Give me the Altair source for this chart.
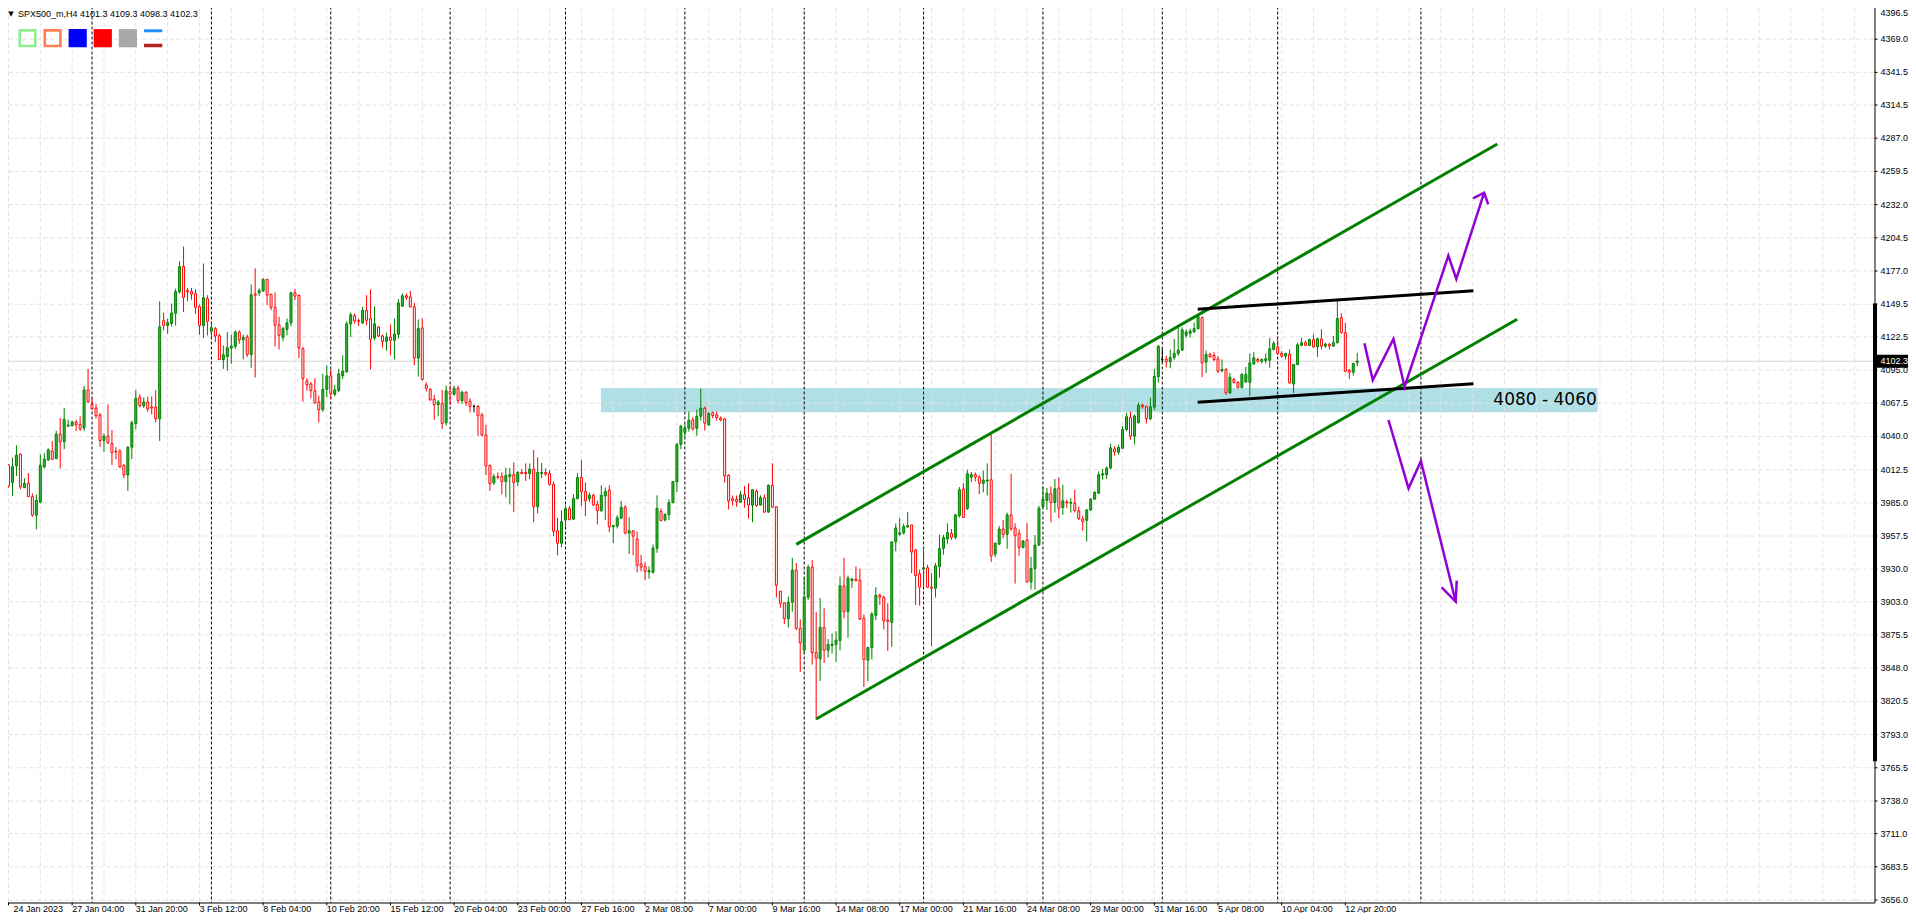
import altair as alt
import pandas as pd

# ---------------- data (H4 candles, bar index 0..339) ----------------
opens = [
    4016.4, 4001.7, 4015.6, 4025.3, 3997.5, 4001.1, 3990.1, 3974.8, 3985.6, 4014.7,
    4020.5, 4027.8, 4021.7, 4041.9, 4035.5, 4048.5, 4048.8, 4051.9, 4049.9, 4047.1,
    4078.5, 4066.5, 4063.5, 4057.7, 4036.6, 4040.2, 4034.1, 4027.7, 4027.7, 4016.1,
    4008.1, 4031.1, 4050.8, 4072.6, 4065.4, 4068.5, 4064.3, 4064.3, 4054.6, 4135.8,
    4131.9, 4133.6, 4141.9, 4159.7, 4180.7, 4160.8, 4159.9, 4158.3, 4147.5, 4131.9,
    4154.1, 4127.2, 4129.2, 4123.4, 4103.7, 4106.2, 4113.1, 4114.5, 4126.4, 4120.0,
    4122.3, 4107.9, 4158.1, 4159.0, 4160.4, 4170.1, 4157.6, 4146.8, 4132.3, 4122.1,
    4128.7, 4134.0, 4159.0, 4156.7, 4112.6, 4086.0, 4083.5, 4077.7, 4068.5, 4062.1,
    4079.0, 4090.1, 4074.9, 4077.9, 4090.4, 4093.7, 4133.2, 4140.1, 4135.9, 4134.0,
    4144.3, 4137.6, 4121.5, 4130.7, 4123.2, 4118.7, 4122.3, 4119.6, 4124.6, 4147.9,
    4156.5, 4155.6, 4147.3, 4104.9, 4129.8, 4082.6, 4079.0, 4070.7, 4066.3, 4067.4,
    4051.3, 4077.1, 4074.9, 4079.9, 4069.6, 4076.6, 4069.0, 4064.9, 4064.9,
    4057.8, 4041.2, 4015.9, 4001.5, 4006.7, 4006.7, 4002.6, 4006.7, 4008.4, 4002.3,
    4010.1, 4010.1, 4009.2, 4012.9, 3981.8, 4009.2, 4010.1, 4009.2, 4000.1, 3961.8,
    3951.5, 3970.7, 3980.1, 3971.5, 3988.4, 4005.9, 3994.3, 3988.4, 3991.2, 3983.7,
    3978.4, 3990.6, 3995.4, 3965.1, 3965.7, 3972.3, 3981.2, 3959.9, 3961.8, 3955.1,
    3934.3, 3932.1, 3927.7, 3927.4, 3947.4, 3977.9, 3970.7, 3975.1, 3985.1, 4002.3,
    4033.4, 4043.4, 4046.7, 4053.6, 4046.7, 4056.7, 4063.4, 4049.5, 4059.5, 4057.8,
    4055.2, 4054.4, 4007.8, 3988.4, 3987.8, 3985.6, 3991.7, 3989.2, 3983.1, 3994.5,
    3983.1, 3989.2, 3977.3, 3999.5, 3981.7, 3911.8, 3902.1, 3889.0, 3902.6, 3929.2,
    3881.0, 3862.9, 3906.8, 3931.7, 3861.0, 3855.7, 3881.8, 3862.9, 3866.8, 3867.6,
    3871.0, 3916.2, 3894.8, 3920.6, 3921.8, 3920.9, 3889.3, 3854.6, 3864.9, 3891.8,
    3908.4, 3906.8, 3887.9, 3886.0, 3952.6, 3958.9, 3960.1, 3965.0, 3966.7, 3945.9,
    3926.2, 3930.1, 3931.2, 3915.1, 3914.3, 3932.3, 3947.3, 3955.1, 3959.7,
    3956.4, 3974.4, 3996.4, 3980.3, 4006.3, 4008.3, 4006.3, 4001.1, 4003.0, 4004.1,
    3942.5, 3950.8, 3963.3, 3958.9, 3975.0, 3964.2, 3959.7, 3948.1, 3954.2, 3919.5,
    3930.6, 3950.0, 3981.9, 3986.9, 3992.5, 3985.3, 3997.2, 3981.1, 3985.8, 3984.7,
    3984.7, 3978.3, 3971.7, 3970.5, 3979.1, 3988.0, 3993.0, 4008.0, 4008.3, 4013.8,
    4029.7, 4026.9, 4030.2, 4045.8, 4055.7, 4040.2, 4051.3, 4066.0, 4064.6, 4054.6,
    4064.3, 4089.6, 4103.5, 4104.0, 4101.8, 4105.4, 4108.7, 4111.5,
    4123.7, 4125.3, 4126.5, 4129.2, 4138.4, 4101.5, 4107.9, 4107.0, 4104.3, 4094.3,
    4095.4, 4076.0, 4087.1, 4084.8, 4080.7, 4085.1, 4084.8, 4100.1, 4103.7, 4102.3,
    4102.9, 4103.1, 4112.0, 4114.0, 4108.7, 4106.5, 4107.9, 4083.4, 4099.5, 4115.4,
    4117.6, 4115.4, 4120.1, 4114.2, 4120.6, 4114.8, 4116.2, 4114.8, 4117.6, 4138.4,
    4125.9, 4094.8, 4093.2, 4101.3,
]
highs = [
    4016.9, 4022.5, 4032.7, 4025.8, 4005.3, 4009.5, 3992.8, 3992.0, 4025.3, 4026.1,
    4030.0, 4036.1, 4044.7, 4055.2, 4063.5, 4053.8, 4053.0, 4053.8, 4056.6, 4081.8,
    4095.9, 4071.5, 4066.8, 4059.4, 4042.7, 4066.3, 4045.2, 4031.1, 4029.4, 4016.9,
    4031.6, 4053.0, 4078.5, 4074.9, 4072.4, 4072.9, 4073.2, 4078.2, 4151.9, 4142.5,
    4137.5, 4150.0, 4162.4, 4185.1, 4197.3, 4163.0, 4163.0, 4161.9, 4149.1, 4183.2,
    4156.9, 4133.3, 4130.6, 4125.0, 4115.3, 4126.4, 4124.2, 4127.8, 4127.8, 4124.2,
    4124.3, 4165.9, 4179.2, 4162.6, 4170.9, 4170.1, 4158.4, 4159.2, 4139.0, 4130.7,
    4137.6, 4159.8, 4162.0, 4157.6, 4114.0, 4088.2, 4084.9, 4088.2, 4073.8, 4091.8,
    4098.8, 4095.1, 4082.7, 4096.0, 4107.1, 4135.4, 4142.6, 4141.8, 4137.6, 4147.3,
    4157.0, 4161.7, 4147.6, 4131.2, 4124.3, 4125.9, 4132.6, 4137.6, 4153.7, 4158.4,
    4158.4, 4160.4, 4150.6, 4136.8, 4137.6, 4084.9, 4079.9, 4074.3, 4070.2, 4078.5,
    4082.1, 4082.1, 4082.1, 4082.1, 4077.9, 4077.4, 4071.6, 4066.3, 4066.0,
    4059.5, 4049.5, 4016.7, 4009.0, 4010.1, 4010.1, 4014.2, 4013.9, 4018.4, 4011.2,
    4012.9, 4017.6, 4017.6, 4028.7, 4022.6, 4017.9, 4013.4, 4012.0, 4002.6, 3972.6,
    3978.7, 3982.9, 3982.3, 3992.0, 4009.5, 4020.3, 4001.8, 3993.4, 3992.6, 3986.8,
    3999.5, 3997.6, 3999.5, 3966.5, 3974.8, 3986.5, 3983.2, 3972.9, 3962.3, 3961.2,
    3941.8, 3936.0, 3932.4, 3950.4, 3991.2, 3980.4, 3976.2, 3987.9, 4002.6, 4034.5,
    4049.5, 4050.0, 4060.6, 4055.9, 4062.2, 4079.5, 4064.7, 4060.0, 4060.6, 4060.6,
    4056.5, 4055.5, 4008.6, 3991.1, 3991.1, 3994.7, 3998.9, 4001.1, 3996.1, 3996.1,
    3991.1, 3992.0, 4000.3, 4017.8, 3981.7, 3911.8, 3902.6, 3907.3, 3939.5, 3935.1,
    3888.5, 3923.4, 3933.7, 3937.8, 3894.6, 3906.2, 3897.6, 3872.1, 3876.8, 3878.7,
    3924.0, 3939.5, 3924.8, 3922.9, 3932.3, 3930.6, 3892.6, 3865.7, 3894.6, 3915.1,
    3909.8, 3907.9, 3901.8, 3953.1, 3967.8, 3972.5, 3967.8, 3977.5, 3966.7, 3946.7,
    3929.5, 3947.8, 3933.7, 3926.7, 3935.1, 3958.7, 3958.4, 3968.1, 3963.3,
    3975.8, 3998.0, 4001.3, 4012.4, 4010.5, 4010.2, 4007.7, 4011.6, 4017.7, 4043.0,
    3952.2, 3965.8, 3970.8, 3976.9, 4009.1, 3968.1, 3963.0, 3954.2, 3968.1, 3940.3,
    3958.3, 3982.5, 3998.6, 3997.2, 3998.6, 4004.7, 4006.1, 4000.0, 3987.5, 3988.9,
    3995.8, 3981.9, 3974.2, 3980.0, 3988.9, 3994.7, 4011.1, 4013.0, 4015.2, 4034.1,
    4031.9, 4033.0, 4048.5, 4059.6, 4060.5, 4058.2, 4067.9, 4067.1, 4065.7, 4072.1,
    4095.7, 4115.7, 4112.4, 4106.8, 4111.8, 4120.7, 4131.8, 4130.4,
    4128.7, 4129.2, 4134.2, 4141.2, 4139.2, 4111.2, 4109.3, 4109.8, 4106.5, 4103.7,
    4096.8, 4092.6, 4088.4, 4085.7, 4092.6, 4097.6, 4108.7, 4109.8, 4105.1, 4104.5,
    4108.7, 4121.5, 4119.0, 4120.4, 4110.6, 4109.3, 4112.0, 4100.1, 4117.6, 4121.7,
    4119.0, 4120.9, 4124.5, 4121.7, 4128.7, 4117.6, 4117.6, 4123.1, 4153.1, 4142.0,
    4134.2, 4095.9, 4100.9, 4109.3,
]
lows = [
    3997.5, 3990.6, 4007.2, 3996.2, 3997.5, 3990.1, 3973.4, 3962.9, 3984.5, 4013.6,
    4019.7, 4020.5, 4021.1, 4013.6, 4029.4, 4048.3, 4048.3, 4044.4, 4044.4, 4044.4,
    4067.7, 4062.4, 4054.9, 4031.4, 4027.2, 4033.6, 4016.4, 4021.1, 4013.9, 4005.3,
    3994.8, 4021.1, 4046.0, 4064.0, 4063.5, 4060.4, 4058.2, 4051.6, 4036.3, 4127.8,
    4125.0, 4131.1, 4131.9, 4158.3, 4143.0, 4151.9, 4153.3, 4141.6, 4124.2, 4121.4,
    4123.6, 4120.9, 4118.1, 4103.7, 4095.9, 4094.5, 4100.1, 4112.5, 4116.7, 4103.7,
    4105.7, 4096.8, 4088.8, 4156.5, 4159.8, 4148.7, 4144.5, 4114.6, 4112.1, 4118.7,
    4123.7, 4131.2, 4152.9, 4104.9, 4068.8, 4077.9, 4071.6, 4066.8, 4051.6, 4060.5,
    4072.4, 4071.0, 4073.2, 4076.6, 4087.7, 4092.6, 4122.3, 4133.4, 4131.5, 4133.2,
    4132.1, 4095.4, 4119.6, 4122.3, 4113.5, 4111.0, 4107.1, 4103.8, 4121.0, 4147.3,
    4152.9, 4146.8, 4098.8, 4089.6, 4086.3, 4077.1, 4069.3, 4053.8, 4056.6, 4046.0,
    4048.8, 4066.0, 4073.8, 4067.4, 4066.8, 4065.4, 4059.9, 4059.9, 4040.5,
    4040.0, 4007.9, 3994.8, 3999.8, 4004.5, 3992.0, 3989.5, 3983.7, 3977.3, 3999.0,
    4008.7, 4003.1, 4004.5, 3969.0, 3976.2, 4005.4, 4007.3, 3999.5, 3957.4, 3941.5,
    3948.2, 3965.7, 3970.4, 3970.7, 3987.9, 3982.3, 3974.0, 3985.7, 3982.3, 3967.1,
    3977.6, 3970.7, 3960.7, 3951.8, 3963.7, 3972.1, 3958.7, 3942.6, 3941.5, 3927.4,
    3928.2, 3920.7, 3922.1, 3926.3, 3943.5, 3969.6, 3969.6, 3970.7, 3984.6, 3994.0,
    4029.5, 4038.7, 4043.9, 4044.8, 4040.6, 4053.1, 4044.8, 4048.9, 4055.0, 4053.1,
    4052.5, 4001.7, 3979.5, 3982.8, 3981.7, 3985.0, 3980.9, 3972.0, 3968.9, 3981.7,
    3982.8, 3976.7, 3976.7, 3980.9, 3906.5, 3898.2, 3884.6, 3881.8, 3894.8, 3879.6,
    3844.9, 3860.2, 3904.5, 3851.0, 3805.5, 3837.4, 3852.4, 3856.8, 3860.2, 3853.2,
    3862.9, 3889.3, 3873.2, 3914.3, 3919.8, 3887.9, 3832.4, 3837.4, 3855.2, 3887.9,
    3900.4, 3880.1, 3862.4, 3865.7, 3944.8, 3957.8, 3958.7, 3964.2, 3926.8, 3900.4,
    3899.8, 3915.7, 3914.5, 3866.3, 3906.5, 3923.1, 3942.0, 3951.2, 3954.2,
    3954.7, 3972.8, 3972.8, 3979.1, 4002.2, 4002.7, 3992.2, 3993.6, 3991.1, 3936.1,
    3940.3, 3950.0, 3955.6, 3947.0, 3961.9, 3918.1, 3941.1, 3947.2, 3919.0, 3913.1,
    3913.1, 3949.2, 3980.5, 3979.1, 3968.9, 3976.9, 3972.2, 3975.0, 3980.5, 3976.9,
    3976.9, 3970.8, 3961.9, 3952.8, 3978.3, 3987.5, 3992.2, 4004.1, 4004.7, 4013.0,
    4024.1, 4024.9, 4029.7, 4044.4, 4037.4, 4033.3, 4050.7, 4063.0, 4050.7, 4053.5,
    4061.6, 4084.6, 4101.2, 4097.1, 4096.5, 4103.2, 4106.8, 4110.7,
    4121.7, 4121.7, 4125.9, 4128.7, 4089.0, 4092.6, 4105.1, 4102.3, 4092.6, 4093.2,
    4074.6, 4075.4, 4083.7, 4079.6, 4079.8, 4084.3, 4073.2, 4099.3, 4101.2, 4100.4,
    4100.4, 4096.8, 4111.2, 4107.3, 4105.1, 4103.7, 4083.7, 4076.0, 4099.0, 4114.8,
    4114.8, 4114.8, 4113.4, 4105.9, 4112.0, 4113.4, 4112.0, 4114.2, 4117.0, 4125.3,
    4093.2, 4087.6, 4090.4, 4098.3,
]
closes = [
    3998.9, 4015.0, 4024.4, 3998.1, 4001.1, 3990.1, 3974.8, 3987.0, 4016.1, 4021.1,
    4028.9, 4021.1, 4041.9, 4035.5, 4054.1, 4049.4, 4051.9, 4049.6, 4046.3, 4078.5,
    4068.8, 4062.9, 4057.1, 4036.6, 4040.2, 4034.7, 4026.6, 4027.2, 4014.7, 4008.1,
    4031.1, 4051.3, 4071.5, 4065.4, 4068.5, 4062.7, 4063.5, 4054.6, 4130.8, 4131.9,
    4134.2, 4142.2, 4159.9, 4180.7, 4155.2, 4159.7, 4158.0, 4146.9, 4131.9, 4154.9,
    4135.3, 4130.0, 4123.1, 4103.7, 4107.6, 4113.4, 4114.8, 4126.4, 4120.0, 4122.0,
    4107.9, 4157.3, 4157.0, 4160.9, 4170.1, 4157.0, 4147.0, 4132.1, 4123.7, 4129.3,
    4134.0, 4159.0, 4156.2, 4113.2, 4087.9, 4082.9, 4077.9, 4067.9, 4062.1, 4079.0,
    4090.1, 4075.4, 4078.5, 4091.8, 4094.0, 4133.2, 4140.7, 4135.7, 4135.4, 4144.3,
    4136.2, 4120.4, 4133.2, 4123.2, 4118.7, 4122.3, 4119.6, 4124.8, 4150.6, 4156.5,
    4155.1, 4147.3, 4104.9, 4129.3, 4087.1, 4079.9, 4070.4, 4066.3, 4068.5, 4050.7,
    4077.7, 4074.9, 4079.9, 4069.9, 4076.6, 4067.9, 4064.9, 4064.9, 4057.1,
    4041.2, 4015.6, 4000.9, 4006.7, 4006.2, 4002.6, 4007.6, 4008.4, 4001.8, 4010.1,
    4009.2, 4009.2, 4012.9, 3981.8, 4010.1, 4010.1, 4008.7, 4000.1, 3961.5, 3951.5,
    3969.3, 3980.1, 3971.2, 3988.4, 4005.9, 3994.3, 3986.8, 3991.2, 3983.2, 3978.4,
    3991.2, 3994.3, 3965.1, 3966.2, 3972.6, 3981.2, 3959.9, 3961.8, 3957.4, 3933.2,
    3931.8, 3928.2, 3928.8, 3947.6, 3980.4, 3970.4, 3975.4, 3985.1, 4002.6, 4033.4,
    4048.4, 4047.0, 4053.4, 4046.2, 4056.7, 4063.4, 4050.9, 4059.2, 4057.3, 4055.6,
    4053.6, 4007.2, 3986.4, 3987.0, 3985.9, 3991.7, 3987.8, 3983.1, 3995.8, 3982.8,
    3989.2, 3977.3, 3999.5, 3981.4, 3916.8, 3901.8, 3889.0, 3902.6, 3929.2, 3881.0,
    3869.0, 3907.0, 3931.7, 3861.0, 3856.5, 3881.8, 3862.9, 3867.6, 3867.9, 3871.3,
    3916.2, 3894.8, 3922.6, 3921.8, 3920.6, 3888.7, 3855.2, 3865.1, 3892.9, 3908.4,
    3906.8, 3887.3, 3886.8, 3952.6, 3964.2, 3960.1, 3965.3, 3966.2, 3944.2, 3924.8,
    3915.1, 3931.2, 3915.1, 3914.3, 3932.8, 3947.0, 3956.2, 3960.3, 3956.4,
    3975.0, 3995.8, 3972.8, 4009.1, 4008.3, 4006.3, 4001.1, 4003.8, 4003.8, 3941.1,
    3951.4, 3963.3, 3958.9, 3975.0, 3963.3, 3957.8, 3948.1, 3953.4, 3919.5, 3930.6,
    3950.0, 3980.5, 3988.0, 3993.0, 3985.3, 3996.6, 3980.5, 3986.6, 3985.0, 3985.3,
    3978.6, 3971.9, 3969.4, 3979.1, 3988.0, 3993.6, 4008.3, 4009.1, 4013.8, 4030.5,
    4027.2, 4030.8, 4045.8, 4056.3, 4040.2, 4056.9, 4065.7, 4064.6, 4054.6, 4064.6,
    4089.6, 4114.6, 4103.5, 4101.8, 4105.4, 4108.7, 4111.5, 4128.2,
    4126.5, 4127.3, 4129.2, 4139.2, 4100.9, 4107.9, 4105.9, 4103.7, 4094.0, 4095.4,
    4076.0, 4089.0, 4084.8, 4080.7, 4091.2, 4091.2, 4100.9, 4105.1, 4102.3, 4103.7,
    4104.3, 4112.6, 4117.0, 4108.7, 4106.5, 4108.7, 4084.3, 4099.5, 4115.9, 4117.6,
    4115.4, 4120.1, 4114.2, 4120.9, 4114.8, 4116.5, 4114.8, 4117.6, 4137.6, 4125.9,
    4094.0, 4093.2, 4100.4, 4102.3,
]

x_labels = ["24 Jan 2023", "27 Jan 04:00", "31 Jan 20:00", "3 Feb 12:00", "8 Feb 04:00",
            "10 Feb 20:00", "15 Feb 12:00", "20 Feb 04:00", "23 Feb 00:00", "27 Feb 16:00",
            "2 Mar 08:00", "7 Mar 00:00", "9 Mar 16:00", "14 Mar 08:00", "17 Mar 00:00",
            "21 Mar 16:00", "24 Mar 08:00", "29 Mar 00:00", "31 Mar 16:00", "5 Apr 08:00",
            "10 Apr 04:00", "12 Apr 20:00"]
label_bars = [0, 16, 32, 48, 64, 80, 96, 112, 128, 144, 160, 176, 192, 208, 224,
              240, 256, 272, 288, 304, 320, 336]
separator_bars = [21, 51, 81, 111, 140, 170, 200, 230, 260, 290, 319, 355]
grid_bars = [0, 8, 16, 24, 32, 40, 48, 56, 64, 72, 80, 88, 96, 104, 112, 120, 128, 136,
             144, 152, 160, 168, 176, 184, 192, 200, 208, 216, 224, 232, 240, 248, 256,
             264, 272, 280, 288, 296, 304, 312, 320, 328, 336, 344, 352, 360, 368, 376,
             384, 392, 400, 408, 416, 424, 432, 440, 448, 456, 464]
price_ticks = [4396.5, 4369.0, 4341.5, 4314.5, 4287.0, 4259.5, 4232.0, 4204.5, 4177.0,
               4149.5, 4122.5, 4095.0, 4067.5, 4040.0, 4012.5, 3985.0, 3957.5, 3930.0,
               3903.0, 3875.5, 3848.0, 3820.5, 3793.0, 3765.5, 3738.0, 3711.0, 3683.5,
               3656.0]
last_price = 4102.3
header = "SPX500_m,H4  4101.3 4109.3 4098.3 4102.3"

# support zone
zone_bars = [148.9, 399.4]
zone_prices = [4060.0, 4080.0]
zone_label = "4080 - 4060"
zone_label_at = [373.2, 4070.0]

# channel (green) and flag (black) lines: start bar, start price, end bar, end price
green_x1 = [198.0, 203.0]
green_y1 = [3950.6, 3805.9]
green_x2 = [374.2, 379.2]
green_y2 = [4282.2, 4137.0]
black_x1 = [298.9, 298.9]
black_y1 = [4145.3, 4068.3]
black_x2 = [368.2, 368.2]
black_y2 = [4160.7, 4083.7]

# purple scenario paths
up_bars = [340.8, 342.9, 348.1, 350.9, 361.9, 363.9, 370.9]
up_prices = [4117.1, 4086.7, 4120.7, 4081.2, 4189.7, 4170.4, 4241.9]
up_head_bars = [368.1, 370.9, 371.9]
up_head_prices = [4237.2, 4241.9, 4232.3]
down_bars = [346.85, 351.9, 355.0, 363.75]
down_prices = [4053.6, 3997.0, 4019.6, 3903.1]
down_head_bars = [360.2, 363.75, 364.0]
down_head_prices = [3915.0, 3903.1, 3920.5]

scale_bar = [4150.0, 3771.0]

# ---------------- layout ----------------
W, H = 1872, 901
FONT = "Liberation Sans"
FS = 9

n = len(closes)
rows = []
for i in range(n):
    o, c = opens[i], closes[i]
    d = "up" if c > o else ("down" if c < o else "doji")
    rows.append({"bar": i, "open": o, "close": c,
                 "high": max(highs[i], o, c), "low": min(lows[i], o, c), "dir": d})
cdf = pd.DataFrame(rows)

xs = alt.Scale(domain=[-0.25, 467.75], nice=False, zero=False)
ys = alt.Scale(domain=[3653.93, 4400.23], nice=False, zero=False)
dirs = ["up", "down", "doji"]


def X(f):
    return alt.X(f, scale=xs, axis=None)


def Y(f):
    return alt.Y(f, scale=ys, axis=None)


zone = alt.Chart(pd.DataFrame({"x": [zone_bars[0]], "x2": [zone_bars[1]],
                               "y": [zone_prices[0]], "y2": [zone_prices[1]]})).mark_rect(
    color="#b0e0e6").encode(x=X("x:Q"), x2="x2:Q", y=Y("y:Q"), y2="y2:Q")

hgrid = alt.Chart(pd.DataFrame({"p": price_ticks})).mark_rule(
    color="#e2e2e2", strokeDash=[4, 3], strokeWidth=1).encode(y=Y("p:Q"))

vgrid = alt.Chart(pd.DataFrame({"b": grid_bars})).mark_rule(
    color="#e2e2e2", strokeDash=[4, 3], strokeWidth=1).encode(x=X("b:Q"))

bidline = alt.Chart(pd.DataFrame({"p": [last_price]})).mark_rule(
    color="#d4d4d4", strokeWidth=1).encode(y=Y("p:Q"))

seps = alt.Chart(pd.DataFrame({"b": separator_bars})).mark_rule(
    color="black", strokeDash=[3, 2], strokeWidth=1).encode(x=X("b:Q"))

wicks = alt.Chart(cdf).mark_rule(strokeWidth=1).encode(
    x=X("bar:Q"), y=Y("low:Q"), y2="high:Q",
    color=alt.Color("dir:N", scale=alt.Scale(domain=dirs,
                    range=["#008000", "#ff0000", "#000000"]), legend=None))

bodies = alt.Chart(cdf).mark_bar(size=2, strokeWidth=1).encode(
    x=X("bar:Q"), y=Y("open:Q"), y2="close:Q",
    fill=alt.Fill("dir:N", scale=alt.Scale(domain=dirs,
                  range=["#3cb43c", "#ffffff", "#000000"]), legend=None),
    stroke=alt.Stroke("dir:N", scale=alt.Scale(domain=dirs,
                      range=["#008000", "#ff0000", "#000000"]), legend=None))

gdf = pd.DataFrame({"x": green_x1, "y": green_y1, "x2": green_x2, "y2": green_y2})
green_lines = alt.Chart(gdf).mark_rule(color="#008000", strokeWidth=3).encode(
    x=X("x:Q"), y=Y("y:Q"), x2="x2:Q", y2="y2:Q")

bdf = pd.DataFrame({"x": black_x1, "y": black_y1, "x2": black_x2, "y2": black_y2})
black_lines = alt.Chart(bdf).mark_rule(color="black", strokeWidth=3).encode(
    x=X("x:Q"), y=Y("y:Q"), x2="x2:Q", y2="y2:Q")

prow = []
for name, bx, py in [("up", up_bars, up_prices), ("uph", up_head_bars, up_head_prices),
                     ("down", down_bars, down_prices),
                     ("downh", down_head_bars, down_head_prices)]:
    for k, (b, p) in enumerate(zip(bx, py)):
        prow.append({"path": name, "seq": k, "bar": b, "price": p})
purple = alt.Chart(pd.DataFrame(prow)).mark_line(
    color="#9400d3", strokeWidth=2.5, strokeJoin="miter").encode(
    x=X("bar:Q"), y=Y("price:Q"), detail="path:N", order="seq:Q")

ztext = alt.Chart(pd.DataFrame({"b": [zone_label_at[0]], "p": [zone_label_at[1]],
                                "t": [zone_label]})).mark_text(
    align="left", baseline="middle", fontSize=17, font="DejaVu Sans", color="black").encode(
    x=X("b:Q"), y=Y("p:Q"), text="t:N")

# ---- axes drawn as marks through the scales ----
xlab_df = pd.DataFrame({"b": label_bars, "t": x_labels})
x_ticks = alt.Chart(xlab_df).mark_rule(color="black", strokeWidth=1).encode(
    x=X("b:Q"), y=alt.value(H), y2=alt.value(H + 3))
x_text0 = alt.Chart(xlab_df.iloc[:1]).mark_text(
    align="left", baseline="top", fontSize=FS, font=FONT, color="black", dx=5).encode(
    x=X("b:Q"), y=alt.value(H + 2.5), text="t:N")
x_text = alt.Chart(xlab_df.iloc[1:]).mark_text(
    align="left", baseline="top", fontSize=FS, font=FONT, color="black").encode(
    x=X("b:Q"), y=alt.value(H + 2.5), text="t:N")

ylab_df = pd.DataFrame({"p": price_ticks, "t": [f"{v:.1f}" for v in price_ticks]})
y_ticks = alt.Chart(ylab_df).mark_rule(color="black", strokeWidth=1).encode(
    x=alt.value(W), x2=alt.value(W + 3), y=Y("p:Q"))
y_text_top = alt.Chart(ylab_df.iloc[:1]).mark_text(
    align="left", baseline="middle", fontSize=FS, font=FONT, color="black", dy=7).encode(
    x=alt.value(W + 6), y=Y("p:Q"), text="t:N")
y_text = alt.Chart(ylab_df.iloc[1:]).mark_text(
    align="left", baseline="middle", fontSize=FS, font=FONT, color="black").encode(
    x=alt.value(W + 6), y=Y("p:Q"), text="t:N")

thick = alt.Chart(pd.DataFrame({"a": [scale_bar[0]], "b": [scale_bar[1]]})).mark_rule(
    color="black", strokeWidth=4).encode(x=alt.value(W + 0.5), y=Y("a:Q"), y2="b:Q")

pbox = alt.Chart(pd.DataFrame({"p": [last_price]})).mark_rect(
    color="black", yOffset=-6.5, y2Offset=6.5).encode(
    x=alt.value(W + 2), x2=alt.value(W + 40), y=Y("p:Q"), y2="p:Q")

ptext = alt.Chart(pd.DataFrame({"p": [last_price], "t": [f"{last_price:.1f}"]})).mark_text(
    align="left", baseline="middle", fontSize=FS, font=FONT, color="white").encode(
    x=alt.value(W + 6), y=Y("p:Q"), text="t:N")

one = pd.DataFrame({"a": [0]})
head_tri = alt.Chart(one).mark_text(text="▼", fontSize=7, font="DejaVu Sans",
                                    color="black", align="center", baseline="middle").encode(
    x=alt.value(8.5), y=alt.value(12))
head_txt = alt.Chart(pd.DataFrame({"t": [header]})).mark_text(
    align="left", baseline="middle", fontSize=FS, font=FONT, color="black").encode(
    x=alt.value(15.5), y=alt.value(12), text="t:N")

legend_layers = []
sq_style = [("#90ee90", False), ("#ff7f50", False), ("#0000ff", True),
            ("#ff0000", True), ("#a9a9a9", True)]
for k, (col, filled) in enumerate(sq_style):
    cx, cy = 25.0 + 25.1 * k, 36.7
    if filled:
        legend_layers.append(alt.Chart(one).mark_rect(color=col).encode(
            x=alt.value(cx - 9.1), x2=alt.value(cx + 9.1),
            y=alt.value(cy - 9.1), y2=alt.value(cy + 9.1)))
    else:
        legend_layers.append(alt.Chart(one).mark_rect(
            fillOpacity=0, stroke=col, strokeWidth=2.6).encode(
            x=alt.value(cx - 7.8), x2=alt.value(cx + 7.8),
            y=alt.value(cy - 7.8), y2=alt.value(cy + 7.8)))
legend_layers.append(alt.Chart(one).mark_rule(color="#1e90ff", strokeWidth=3).encode(
    x=alt.value(141.5), x2=alt.value(159.8), y=alt.value(29.3)))
legend_layers.append(alt.Chart(one).mark_rule(color="#b22222", strokeWidth=3.5).encode(
    x=alt.value(141.5), x2=alt.value(159.8), y=alt.value(44.0)))

chart = alt.layer(
    zone, hgrid, vgrid, bidline, seps, wicks, bodies, green_lines, black_lines, purple,
    ztext, x_ticks, x_text0, x_text, y_ticks, y_text_top, y_text, thick, pbox, ptext,
    head_tri, head_txt, *legend_layers
).properties(
    width=W, height=H, background="white",
    autosize=alt.AutoSizeParams(type="none"),
    padding={"left": -5.5, "top": -6.5, "right": 33.5, "bottom": 10.5},
).configure_view(stroke="black", strokeWidth=1)

chart.save("out.html", embed_options={"renderer": "svg", "actions": False})
